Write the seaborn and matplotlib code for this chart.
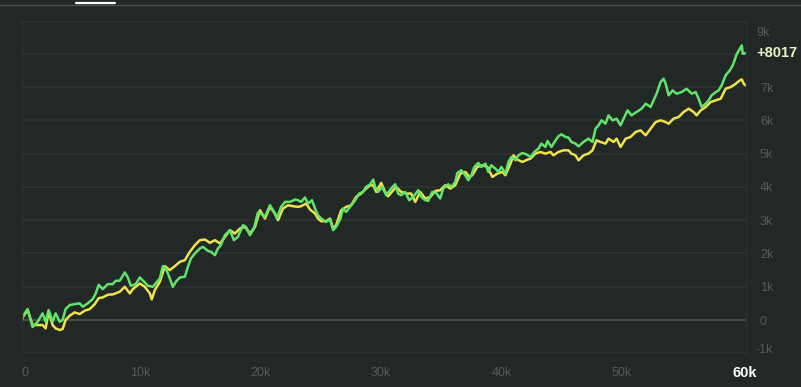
import numpy as np
import pandas as pd
import matplotlib
matplotlib.use("Agg")
import matplotlib.pyplot as plt
import seaborn as sns
from matplotlib.lines import Line2D

# ---- data ----
green_x = [200, 250, 665, 1080, 1500, 1910, 2160, 2410, 2740, 2990, 3330, 3570, 3820, 4160, 4570,
           4990, 5240, 5650, 6070, 6320, 6570, 6900, 7320, 7730, 7980, 8310, 8730, 8980, 9230, 9640,
           9980, 10390, 10640, 11060, 11640, 11890, 12140, 12470, 12720, 12970, 13300, 13720, 13970,
           14220, 14550, 14960, 15210, 15630, 15880, 16210, 16460, 16710, 17040, 17460, 17790, 18120,
           18540, 18790, 19120, 19450, 19780, 20030, 20370, 20780, 21120, 21360, 21700, 22030, 22450,
           22860, 23110, 23360, 23690, 23940, 24270, 24520, 24770, 25020, 25440, 25770, 26020, 26270,
           26600, 26850, 27100, 27430, 27850, 28180, 28510, 28760, 29100, 29350, 29510, 29760, 30090,
           30430, 30840, 31170, 31420, 31670, 32000, 32340, 32670, 33090, 33340, 33670, 33920, 34250,
           34580, 34910, 35160, 35580, 35830, 36160, 36330, 36660, 36990, 37240, 37490, 37740, 38070,
           38320, 38660, 38900, 39150, 39490, 39740, 39990, 40320, 40570, 40820, 41150, 41400, 41730,
           42060, 42400, 42730, 43060, 43310, 43640, 43810, 44140, 44390, 44720, 44970, 45310, 45560,
           45800, 46140, 46390, 46800, 47220, 47550, 47800, 48050, 48300, 48630, 48880, 49210, 49550,
           49880, 50130, 50460, 50790, 51210, 51620, 51960, 52370, 52620, 52870, 53200, 53450, 53620,
           53870, 54200, 54530, 54950, 55360, 55780, 56110, 56360, 56610, 56940, 57190, 57440, 57780,
           58020, 58270, 58600, 58940, 59190, 59530, 59700, 59940, 60020, 60270]
green_y = [0, 100, 330, -210, -50, 200, -50, 300, -50, 200, -50, 0, 330, 450, 480,
           500, 400, 500, 630, 800, 1060, 930, 1080, 1080, 1180, 1180, 1430, 1280, 1030, 1080,
           1280, 1130, 1030, 1000, 1250, 1620, 1550, 1250, 1000, 1150, 1280, 1300, 1600,
           1850, 2000, 2150, 2200, 2080, 2050, 1950, 2150, 2250, 2550, 2700, 2400, 2500,
           2850, 2800, 2550, 2750, 3230, 3200, 3100, 3450, 3250, 3050, 3400, 3550, 3550,
           3620, 3600, 3550, 3680, 3500, 3600, 3350, 3150, 3050, 2950, 3020, 2700, 2800,
           3020, 3350, 3250, 3400, 3600, 3800, 3850, 4000, 4080, 4220, 4000, 3850, 4000,
           3750, 3950, 4080, 3800, 3750, 3850, 3600, 3700, 3900, 3700, 3600, 3580, 3850,
           3820, 3650, 3950, 4080, 4000, 4150, 4420, 4500, 4350, 4200, 4350, 4600, 4720,
           4600, 4700, 4450, 4650, 4550, 4450, 4600, 4400, 4750, 4900, 4800, 4950, 5020,
           4980, 4900, 5050, 5150, 5300, 5200, 5380, 5200, 5350, 5520, 5580, 5500, 5480,
           5350, 5300, 5220, 5350, 5450, 5350, 5750, 5850, 6000, 5900, 6150, 6000, 6050,
           5850, 6050, 6300, 6150, 6250, 6350, 6500, 6400, 6600, 6800, 7150, 7250, 7100,
           6750, 6900, 6800, 6850, 6950, 6800, 6850, 6650, 6400, 6500, 6600, 6750, 6850,
           6900, 7050, 7350, 7500, 7650, 8000, 8100, 8250, 8000, 8017]

yellow_x = [200, 250, 665, 1080, 1500, 1910, 2160, 2410, 2740, 2990, 3330, 3570, 3820, 4160, 4570,
            4990, 5400, 5820, 6240, 6570, 6900, 7320, 7730, 8310, 8730, 9150, 9400, 9980, 10390,
            10810, 10970, 11220, 11640, 12060, 12470, 12890, 13300, 13720, 14130, 14550, 14960,
            15380, 15800, 16210, 16630, 17040, 17460, 17870, 18290, 18710, 19120, 19540, 19950,
            20370, 20780, 21200, 21450, 21860, 22280, 22700, 23110, 23360, 23780, 24110, 24520,
            24770, 25020, 25440, 25770, 26020, 26270, 26690, 27100, 27520, 27930, 28350, 28760,
            29100, 29350, 29600, 30010, 30340, 30590, 31010, 31250, 31670, 32090, 32500, 32840,
            33250, 33670, 34090, 34500, 34910, 35330, 35750, 36160, 36580, 37000, 37330, 37570,
            37990, 38410, 38820, 39240, 39650, 40070, 40320, 40740, 40990, 41320, 41730, 42150,
            42400, 42810, 43230, 43640, 44060, 44310, 44720, 45140, 45560, 45800, 46140, 46390,
            46800, 47220, 47550, 47880, 48220, 48630, 48880, 49300, 49550, 49880, 50300, 50710,
            51130, 51540, 51960, 52370, 52790, 53200, 53620, 53870, 54280, 54700, 55110, 55530,
            55940, 56190, 56530, 56940, 57360, 57780, 58190, 58600, 59020, 59440, 59770, 59940,
            60100, 60270]
yellow_y = [0, 80, 300, -150, -150, -150, -250, 250, -150, -250, -300, -270, 0, 130, 230,
            180, 280, 330, 480, 660, 680, 760, 770, 850, 1000, 800, 930, 1100, 1000,
            800, 620, 900, 1150, 1620, 1500, 1620, 1750, 1800, 2050, 2250, 2400,
            2420, 2320, 2400, 2300, 2500, 2700, 2600, 2750, 2800, 2600, 2800, 3300,
            3050, 3400, 3200, 3000, 3350, 3450, 3420, 3400, 3420, 3500, 3320, 3200,
            3050, 2970, 2970, 3050, 2750, 2850, 3300, 3400, 3450, 3700, 3800, 3950,
            4050, 4050, 3850, 4120, 3850, 3720, 3900, 4000, 3850, 3800, 3800, 3550,
            3850, 3650, 3700, 3880, 3900, 4050, 3950, 4050, 4400, 4450, 4300, 4350,
            4600, 4650, 4600, 4300, 4400, 4450, 4350, 4700, 4950, 4820, 4750, 4820,
            4850, 5000, 5050, 5000, 5050, 4950, 5050, 5100, 5100, 5000, 4950, 4800,
            4950, 5000, 5100, 5400, 5350, 5300, 5450, 5350, 5450, 5200, 5450, 5500,
            5650, 5700, 5550, 5750, 5950, 6000, 5950, 5900, 6050, 6100, 6250, 6350,
            6250, 6150, 6300, 6400, 6550, 6600, 6650, 6950, 7000, 7100, 7200, 7230,
            7100, 7050]

series_names = ["yellow", "green"]
y_grid = [-1000, 0, 1000, 2000, 3000, 4000, 5000, 6000, 7000, 8000, 9000]
y_ticks = [0, 1000, 2000, 3000, 4000, 5000, 6000, 7000]
y_tick_labels = ["0", "1k", "2k", "3k", "4k", "5k", "6k", "7k"]
x_ticks = [10000, 20000, 30000, 40000, 50000]
x_tick_labels = ["10k", "20k", "30k", "40k", "50k"]
end_label = "+8017"
end_value = 8017
end_x_label = "60k"

df = pd.concat([
    pd.DataFrame({"x": yellow_x, "y": yellow_y, "series": "yellow"}),
    pd.DataFrame({"x": green_x, "y": green_y, "series": "green"}),
], ignore_index=True)

BG = "#222826"
LABEL = "#575c59"
sns.set_theme(style="dark")
plt.rcParams["font.family"] = ["Liberation Sans", "DejaVu Sans"]

fig = plt.figure(figsize=(8.01, 3.87), dpi=100, facecolor=BG)
W, H = 801, 387
L, R, T, B = 22, 746, 21, 352
ax = fig.add_axes([L / W, 1 - B / H, (R - L) / W, (B - T) / H])
ax.set_facecolor(BG)

sns.lineplot(data=df, x="x", y="y", hue="series", hue_order=series_names,
             palette={"yellow": "#efe24c", "green": "#62e46c"},
             estimator=None, linewidth=1.8, legend=False, ax=ax)

XMIN, XMAX = 200, 60290
YMIN, YMAX = -960, 8985
ax.set_xlim(XMIN, XMAX)
ax.set_ylim(YMIN, YMAX)

for g in y_grid:
    if g == 0:
        ax.axhline(g, color="#4a4f4c", linewidth=1.3, zorder=1)
    else:
        ax.axhline(g, color="#2e3431", linewidth=1.2, zorder=1)

ax.set_yticks(y_ticks)
ax.set_yticklabels(y_tick_labels)
ax.yaxis.tick_right()
ax.tick_params(axis="y", length=0, pad=10, labelsize=9, labelcolor=LABEL)
ax.set_xticks(x_ticks)
ax.set_xticklabels(x_tick_labels)
ax.tick_params(axis="x", length=0, pad=10.5, labelsize=9, labelcolor=LABEL)
ax.set_xlabel("")
ax.set_ylabel("")
ax.grid(False)

for s in ax.spines.values():
    s.set_color("#2c3230")
    s.set_linewidth(1)

# clamped edge labels
ax.text(1.0 + 10 / (R - L), (B - 33) / (B - T), "9k", transform=ax.transAxes,
        ha="left", va="center", fontsize=9, color=LABEL)
ax.text(1.0 + 10 / (R - L), (B - 350) / (B - T), "-1k", transform=ax.transAxes,
        ha="left", va="center", fontsize=9, color=LABEL)
ax.text((25 - L) / (R - L), -(373 - B) / (B - T), "0", transform=ax.transAxes,
        ha="center", va="center", fontsize=9, color=LABEL)

ax.text(1.0 + 10 / (R - L), end_value, end_label, transform=ax.get_yaxis_transform(),
        ha="left", va="center", fontsize=10.5, fontweight="bold", color="#e6f4c8")
ax.text((745 - L) / (R - L), -(373 - B) / (B - T), end_x_label, transform=ax.transAxes,
        ha="center", va="center", fontsize=10.5, fontweight="bold", color="#ffffff")

fig.add_artist(Line2D([0, 1], [1 - 4.5 / H, 1 - 4.5 / H], transform=fig.transFigure,
                      color="#4c524f", linewidth=1))
fig.add_artist(Line2D([76 / W, 115 / W], [1 - 3 / H, 1 - 3 / H], transform=fig.transFigure,
                      color="#ffffff", linewidth=1.6))

fig.savefig("out.png", dpi=100, facecolor=BG)
